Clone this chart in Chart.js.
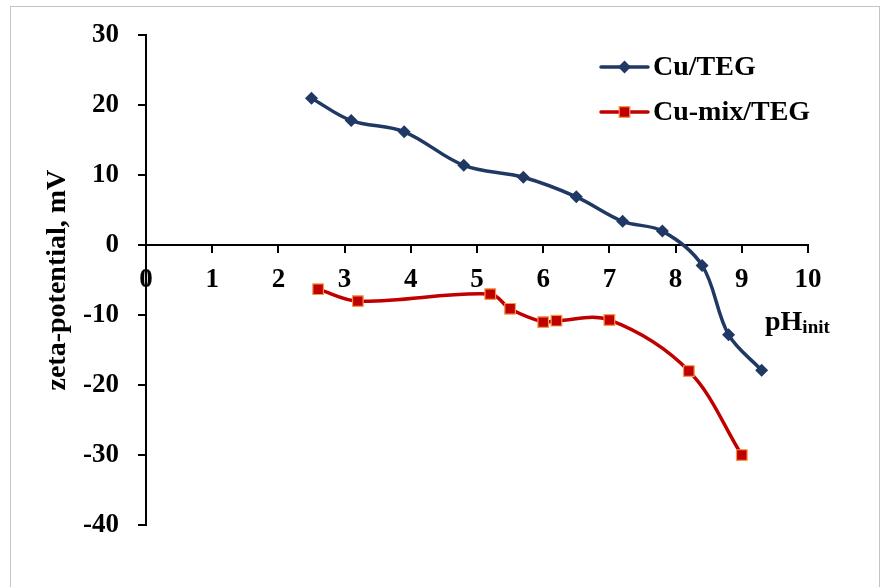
<!DOCTYPE html>
<html>
<head>
<meta charset="utf-8">
<script src="https://cdn.jsdelivr.net/npm/chart.js@4.4.1/dist/chart.umd.min.js"></script>
<style>
  html, body { margin: 0; padding: 0; background: #fff; }
  #wrap { position: relative; width: 886px; height: 587px; overflow: hidden; background: #fff; }
  #frame { position: absolute; left: 10px; top: 6px; width: 870px; height: 600px; border: 1px solid #c4c4c4; box-sizing: border-box; }
  canvas { position: absolute; left: 0; top: 0; }
</style>
</head>
<body>
<div id="wrap">
  <div id="frame"></div>
  <canvas id="c" width="886" height="587"></canvas>
</div>
<script>
// Data
const cuTegPH   = [2.5, 3.1, 3.9, 4.8, 5.7, 6.5, 7.2, 7.8, 8.4, 8.8, 9.3];
const cuTegZeta = [21.0, 17.8, 16.2, 11.4, 9.7, 6.9, 3.4, 2.0, -2.9, -12.8, -17.9];
const cuMixPH   = [2.6, 3.2, 5.2, 5.5, 6.0, 6.2, 7.0, 8.2, 9.0];
const cuMixZeta = [-6.3, -8.0, -7.0, -9.1, -11.0, -10.8, -10.7, -18.0, -30.0];
const seriesNames = ['Cu/TEG', 'Cu-mix/TEG'];
const xTicks = [0, 1, 2, 3, 4, 5, 6, 7, 8, 9, 10];
const yTicks = [-40, -30, -20, -10, 0, 10, 20, 30];
const yTitle = 'zeta-potential, mV';
const xTitleMain = 'pH';
const xTitleSub = 'init';

const FONT = '"Liberation Serif", "Times New Roman", serif';
const BLUE = '#1F3864';
const RED = '#C00000';
const ORANGE = '#F79646';

const toPts = (xs, ys) => xs.map((x, i) => ({ x: x, y: ys[i] }));

const overlayPlugin = {
  id: 'overlay',
  afterDraw(chart) {
    const ctx = chart.ctx;
    const ds = chart.data.datasets;
    ctx.save();
    // legend
    const rows = [67, 112];
    ds.forEach((d, i) => {
      const y = rows[i];
      ctx.strokeStyle = d.borderColor;
      ctx.lineWidth = 3.5;
      ctx.lineCap = 'round';
      ctx.beginPath();
      ctx.moveTo(601, y);
      ctx.lineTo(648, y);
      ctx.stroke();
      ctx.fillStyle = d.pointBackgroundColor;
      ctx.strokeStyle = d.pointBorderColor;
      ctx.lineWidth = d.pointBorderWidth;
      const r = d.pointRadius;
      ctx.beginPath();
      if (d.pointStyle === 'rectRot') {
        ctx.moveTo(624.5, y - r); ctx.lineTo(624.5 + r, y); ctx.lineTo(624.5, y + r); ctx.lineTo(624.5 - r, y); ctx.closePath();
      } else {
        const s = r * Math.SQRT1_2;
        ctx.rect(624.5 - s, y - s, 2 * s, 2 * s);
      }
      ctx.fill();
      if (d.pointBorderWidth) ctx.stroke();
      ctx.fillStyle = '#000';
      ctx.font = 'bold 28px ' + FONT;
      ctx.textAlign = 'left';
      ctx.textBaseline = 'middle';
      ctx.fillText(d.label, 653, y + 1);
    });
    // x axis title with subscript
    ctx.fillStyle = '#000';
    ctx.textBaseline = 'alphabetic';
    ctx.font = 'bold 28px ' + FONT;
    ctx.fillText(xTitleMain, 765, 330);
    const w = ctx.measureText(xTitleMain).width;
    ctx.font = 'bold 19px ' + FONT;
    ctx.fillText(xTitleSub, 765 + w, 333);
    ctx.restore();
  }
};

new Chart(document.getElementById('c'), {
  type: 'scatter',
  data: {
    datasets: [
      {
        label: seriesNames[0],
        data: toPts(cuTegPH, cuTegZeta),
        showLine: true,
        borderColor: BLUE,
        borderWidth: 3.5,
        tension: 0.35,
        pointStyle: 'rectRot',
        pointRadius: 6.5,
        pointHoverRadius: 6.5,
        pointBackgroundColor: BLUE,
        pointBorderColor: BLUE,
        pointBorderWidth: 0
      },
      {
        label: seriesNames[1],
        data: toPts(cuMixPH, cuMixZeta),
        showLine: true,
        borderColor: RED,
        borderWidth: 3.5,
        tension: 0.35,
        pointStyle: 'rect',
        pointRadius: 7.5,
        pointHoverRadius: 7.5,
        pointBackgroundColor: RED,
        pointBorderColor: ORANGE,
        pointBorderWidth: 1.2
      }
    ]
  },
  options: {
    responsive: false,
    animation: false,
    devicePixelRatio: 1,
    layout: { padding: { left: 0, top: 35, right: 78, bottom: 62 } },
    plugins: { legend: { display: false }, tooltip: { enabled: false } },
    scales: {
      x: {
        type: 'linear',
        min: 0, max: 10,
        position: { y: 0 },
        afterBuildTicks: (s) => { s.ticks = xTicks.map(v => ({ value: v })); },
        ticks: { color: '#000', font: { family: FONT, size: 27, weight: 'bold' }, padding: 12 },
        grid: { drawOnChartArea: false, drawTicks: true, tickLength: 7, color: '#000', lineWidth: 2 },
        border: { display: true, color: '#000', width: 2 }
      },
      y: {
        type: 'linear',
        min: -40, max: 30,
        position: 'left',
        afterBuildTicks: (s) => { s.ticks = yTicks.map(v => ({ value: v })); },
        afterFit: (s) => { s.width = 146; },
        ticks: { color: '#000', font: { family: FONT, size: 27, weight: 'bold' }, padding: 19 },
        grid: { drawOnChartArea: false, drawTicks: true, tickLength: 8, color: '#000', lineWidth: 2 },
        border: { display: true, color: '#000', width: 2 },
        title: { display: true, text: yTitle, color: '#000', font: { family: FONT, size: 28, weight: 'bold' }, padding: { top: 41, bottom: 0 } }
      }
    }
  },
  plugins: [overlayPlugin]
});
</script>
</body>
</html>
